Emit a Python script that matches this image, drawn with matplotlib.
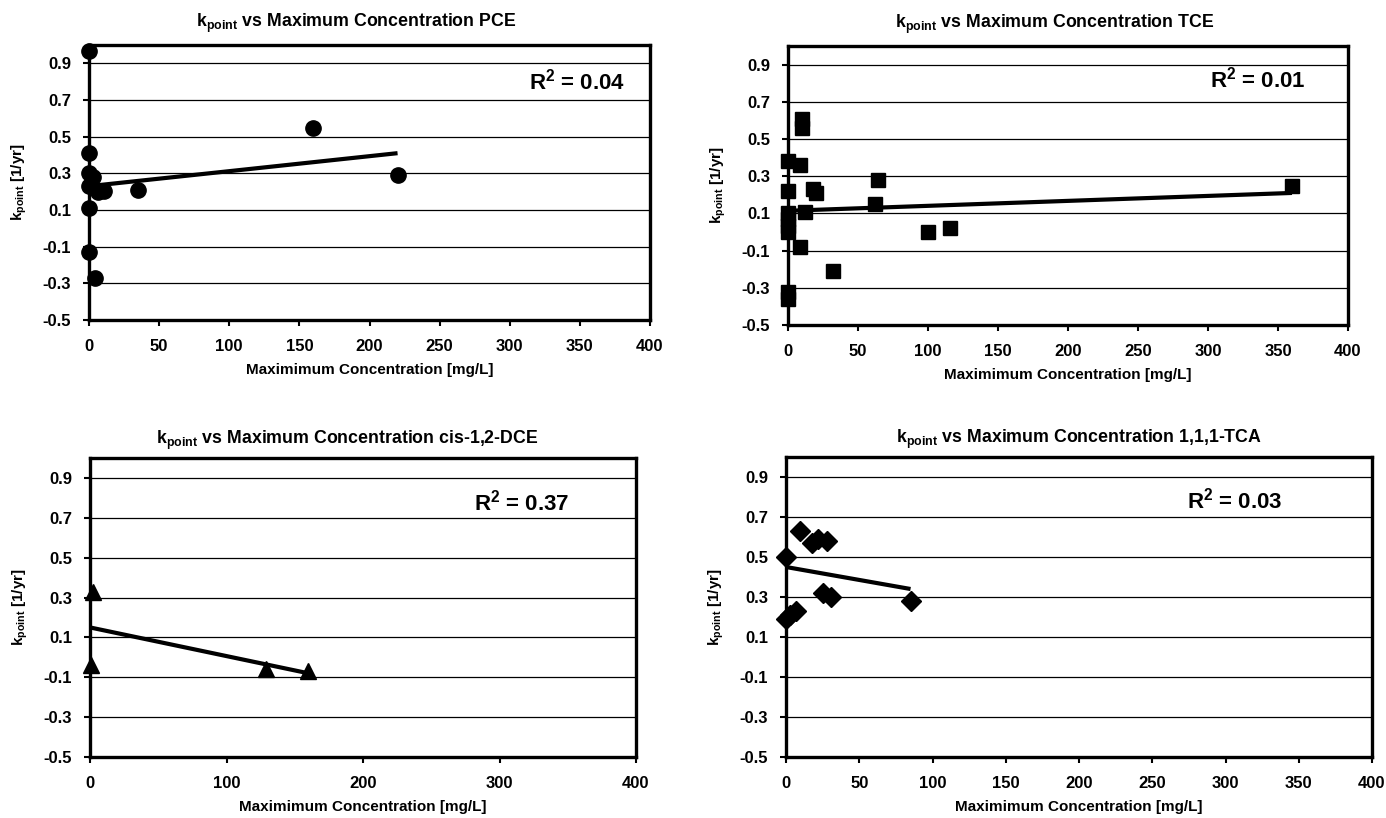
import matplotlib
matplotlib.use("Agg")
import matplotlib.pyplot as plt

plt.rcParams['font.family'] = ['Liberation Sans', 'DejaVu Sans']
plt.rcParams['font.weight'] = 'bold'
plt.rcParams['axes.unicode_minus'] = False
plt.rcParams['mathtext.fontset'] = 'custom'
plt.rcParams['mathtext.rm'] = 'Liberation Sans:bold'
plt.rcParams['mathtext.bf'] = 'Liberation Sans:bold'
plt.rcParams['mathtext.default'] = 'bf'

# --- data ---
pce_x = [0, 0, 0, 3, 0, 6.6, 10.5, 0, 0, 4.3, 35, 160, 220]
pce_y = [0.97, 0.41, 0.30, 0.28, 0.23, 0.20, 0.205, 0.11, -0.13, -0.27, 0.21, 0.55, 0.29]
pce_trend_x = [0, 220]
pce_trend_y = [0.23, 0.41]

tce_x = [0, 0, 0, 0, 0, 0, 0, 0, 8.6, 10, 10, 18, 20, 12, 8.6, 32, 62, 64.5, 100, 116, 360]
tce_y = [-0.32, -0.36, 0.0, 0.03, 0.07, 0.10, 0.22, 0.38, 0.36, 0.61, 0.56, 0.23, 0.21,
         0.11, -0.08, -0.21, 0.15, 0.28, 0.0, 0.02, 0.25]
tce_trend_x = [0, 360]
tce_trend_y = [0.114, 0.21]

dce_x = [2, 1, 129, 160]
dce_y = [0.33, -0.04, -0.06, -0.07]
dce_trend_x = [0, 160]
dce_trend_y = [0.15, -0.08]

tca_x = [0, 9.5, 18, 22, 28, 25, 31, 0, 7, 3, 85]
tca_y = [0.50, 0.63, 0.57, 0.59, 0.58, 0.32, 0.30, 0.19, 0.23, 0.21, 0.28]
tca_trend_x = [0, 85]
tca_trend_y = [0.45, 0.34]

compounds = ['PCE', 'TCE', 'cis-1,2-DCE', '1,1,1-TCA']
r2_labels = ['0.04', '0.01', '0.37', '0.03']
y_ticks = [-0.5, -0.3, -0.1, 0.1, 0.3, 0.5, 0.7, 0.9]

W, H = 1386, 818
fig = plt.figure(figsize=(W / 100, H / 100), dpi=100)
fig.patch.set_facecolor('white')


def make_axes(left, right, top, bottom):
    return fig.add_axes([left / W, 1 - bottom / H, (right - left) / W, (bottom - top) / H])


panels = [
    # axes box in pixels, data, marker, x step, title x, r2 position
    dict(box=(89, 650, 45, 320), x=pce_x, y=pce_y, tx=pce_trend_x, ty=pce_trend_y,
         marker='o', ms=11, step=50, tpos=0.476, r2=(382, 0.80), tpad=13),
    dict(box=(788, 1348, 46, 325), x=tce_x, y=tce_y, tx=tce_trend_x, ty=tce_trend_y,
         marker='s', ms=10, step=50, tpos=0.477, r2=(370, 0.82), tpad=13),
    dict(box=(90, 636, 458, 757), x=dce_x, y=dce_y, tx=dce_trend_x, ty=dce_trend_y,
         marker='^', ms=11, step=100, tpos=0.471, r2=(351, 0.775), tpad=10),
    dict(box=(786, 1372, 457, 757), x=tca_x, y=tca_y, tx=tca_trend_x, ty=tca_trend_y,
         marker='D', ms=10, step=50, tpos=0.5, r2=(339, 0.78), tpad=10),
]

for p, name, r2 in zip(panels, compounds, r2_labels):
    ax = make_axes(*p['box'])
    ax.set_xlim(0, 400)
    ax.set_ylim(-0.5, 1.0)
    ax.set_yticks(y_ticks)
    ax.set_yticklabels([f'{v:.1f}' for v in y_ticks])
    ax.set_xticks(list(range(0, 401, p['step'])))
    for v in y_ticks[1:]:
        ax.axhline(v, color='black', lw=0.9, zorder=1)
    ax.plot(p['x'], p['y'], linestyle='none', marker=p['marker'], ms=p['ms'],
            color='black', clip_on=False, zorder=3)
    ax.plot(p['tx'], p['ty'], color='black', lw=3, solid_capstyle='butt', zorder=4)
    for s in ax.spines.values():
        s.set_linewidth(2.4)
    ax.tick_params(axis='both', direction='out', length=4, width=1.5, labelsize=12)
    ax.tick_params(axis='y', pad=9)
    ax.tick_params(axis='x', pad=10)
    ax.set_title('k$_{point}$ vs Maximum Concentration ' + name, fontsize=12.8,
                 fontweight='bold', x=p['tpos'], pad=p['tpad'])
    ax.set_xlabel('Maximimum Concentration [mg/L]', fontsize=11, fontweight='bold', labelpad=6)
    ax.set_ylabel('k$_{point}$ [1/yr]', fontsize=11, fontweight='bold', labelpad=10)
    ax.text(p['r2'][0], p['r2'][1], 'R$^2$ = ' + r2, fontsize=16, fontweight='bold',
            ha='right', va='center')

fig.savefig('out.png', dpi=100, facecolor='white')
